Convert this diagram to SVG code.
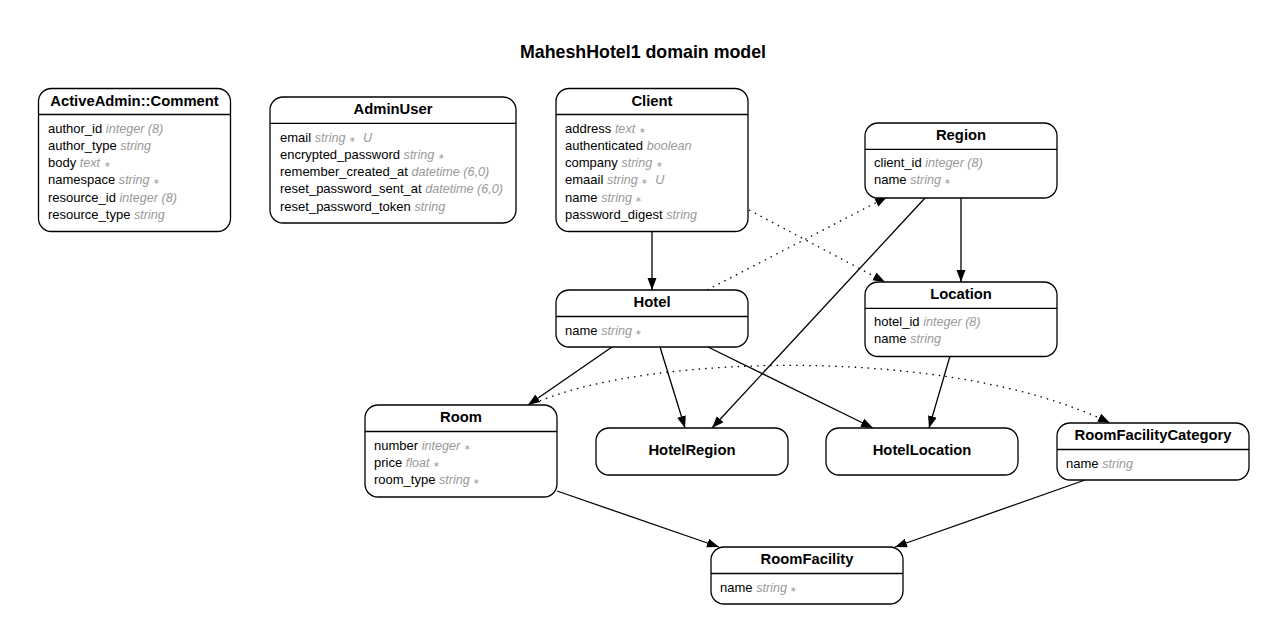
<svg xmlns="http://www.w3.org/2000/svg" width="1287" height="643" viewBox="0 0 1287 643">
<style>
.bg{fill:#fff}
.box{fill:#fff;stroke:#000;stroke-width:1.3}
.div{stroke:#000;stroke-width:1.3}
.ttl{font-family:"Liberation Sans",Arial,sans-serif;font-size:17.8px;font-weight:bold;fill:#000;text-anchor:middle}
.nt{font-family:"Liberation Sans",Arial,sans-serif;font-size:14.8px;font-weight:bold;fill:#000;text-anchor:middle}
.a{font-family:"Liberation Sans",Arial,sans-serif;font-size:13px;fill:#000;white-space:pre}
.t{font-style:italic;font-size:12.6px;fill:#999}
.s{font-style:normal;font-size:8px;fill:#999}
.e{fill:none;stroke:#000;stroke-width:1.3}
.d{fill:none;stroke:#000;stroke-width:1.3;stroke-dasharray:1.5 5}
</style>
<defs>
<marker id="ah" markerUnits="userSpaceOnUse" markerWidth="13" markerHeight="10" refX="12" refY="4.5" orient="auto">
<path d="M0,0 L12,4.5 L0,9 z" fill="#000"/>
</marker>
</defs>
<rect class="bg" width="1287" height="643"/>
<text class="ttl" x="643" y="58">MaheshHotel1 domain model</text>

<g id="connectors">
<path class="e" d="M652,232 L652,290" marker-end="url(#ah)"/>
<path class="d" d="M749,210 L885,282" marker-end="url(#ah)"/>
<path class="d" d="M707,290 L887,197" marker-end="url(#ah)"/>
<path class="e" d="M961,198 L961,282" marker-end="url(#ah)"/>
<path class="e" d="M925,198 L712,428" marker-end="url(#ah)"/>
<path class="e" d="M612,347 L528,405" marker-end="url(#ah)"/>
<path class="e" d="M660,347 L685,428" marker-end="url(#ah)"/>
<path class="e" d="M708,347 L873,428" marker-end="url(#ah)"/>
<path class="e" d="M950,356 L929,428" marker-end="url(#ah)"/>
<path class="d" d="M540,401 C650,355 950,345 1110,423" marker-end="url(#ah)"/>
<path class="e" d="M557,491 L719,547" marker-end="url(#ah)"/>
<path class="e" d="M1085,480 L895,547" marker-end="url(#ah)"/>
</g>

<g id="node-ActiveAdminComment">
<rect class="box" x="38.5" y="88.5" width="192" height="143" rx="13"/>
<line class="div" x1="38.5" y1="114.5" x2="230.5" y2="114.5"/>
<text class="nt" x="134.5" y="105.5">ActiveAdmin::Comment</text>
<text class="a" x="48" y="132.5">author_id <tspan class="t">integer (8)</tspan></text>
<text class="a" x="48" y="149.8">author_type <tspan class="t">string</tspan></text>
<text class="a" x="48" y="167.1">body <tspan class="t">text </tspan><tspan class="s">∗</tspan></text>
<text class="a" x="48" y="184.4">namespace <tspan class="t">string </tspan><tspan class="s">∗</tspan></text>
<text class="a" x="48" y="201.7">resource_id <tspan class="t">integer (8)</tspan></text>
<text class="a" x="48" y="219">resource_type <tspan class="t">string</tspan></text>
</g>

<g id="node-AdminUser">
<rect class="box" x="270" y="97" width="246" height="126" rx="13"/>
<line class="div" x1="270" y1="123.3" x2="516" y2="123.3"/>
<text class="nt" x="393" y="114">AdminUser</text>
<text class="a" x="280" y="141.5">email <tspan class="t">string </tspan><tspan class="s">∗</tspan><tspan class="t">  U</tspan></text>
<text class="a" x="280" y="158.8">encrypted_password <tspan class="t">string </tspan><tspan class="s">∗</tspan></text>
<text class="a" x="280" y="176.1">remember_created_at <tspan class="t">datetime (6,0)</tspan></text>
<text class="a" x="280" y="193.4">reset_password_sent_at <tspan class="t">datetime (6,0)</tspan></text>
<text class="a" x="280" y="210.7">reset_password_token <tspan class="t">string</tspan></text>
</g>

<g id="node-Client">
<rect class="box" x="556" y="88.5" width="192" height="143" rx="13"/>
<line class="div" x1="556" y1="114.5" x2="748" y2="114.5"/>
<text class="nt" x="652" y="105.5">Client</text>
<text class="a" x="565" y="132.5">address <tspan class="t">text </tspan><tspan class="s">∗</tspan></text>
<text class="a" x="565" y="149.8">authenticated <tspan class="t">boolean</tspan></text>
<text class="a" x="565" y="167.1">company <tspan class="t">string </tspan><tspan class="s">∗</tspan></text>
<text class="a" x="565" y="184.4">emaail <tspan class="t">string </tspan><tspan class="s">∗</tspan><tspan class="t">  U</tspan></text>
<text class="a" x="565" y="201.7">name <tspan class="t">string </tspan><tspan class="s">∗</tspan></text>
<text class="a" x="565" y="219">password_digest <tspan class="t">string</tspan></text>
</g>

<g id="node-Region">
<rect class="box" x="865" y="123" width="192" height="75" rx="13"/>
<line class="div" x1="865" y1="149.3" x2="1057" y2="149.3"/>
<text class="nt" x="961" y="140">Region</text>
<text class="a" x="874" y="167">client_id <tspan class="t">integer (8)</tspan></text>
<text class="a" x="874" y="184.3">name <tspan class="t">string </tspan><tspan class="s">∗</tspan></text>
</g>

<g id="node-Hotel">
<rect class="box" x="556" y="290" width="192" height="57" rx="13"/>
<line class="div" x1="556" y1="316.5" x2="748" y2="316.5"/>
<text class="nt" x="652" y="307">Hotel</text>
<text class="a" x="565" y="334.5">name <tspan class="t">string </tspan><tspan class="s">∗</tspan></text>
</g>

<g id="node-Location">
<rect class="box" x="865" y="282" width="192" height="74.5" rx="13"/>
<line class="div" x1="865" y1="308.3" x2="1057" y2="308.3"/>
<text class="nt" x="961" y="299">Location</text>
<text class="a" x="874" y="326">hotel_id <tspan class="t">integer (8)</tspan></text>
<text class="a" x="874" y="343.3">name <tspan class="t">string</tspan></text>
</g>

<g id="node-Room">
<rect class="box" x="365" y="405" width="192" height="92" rx="13"/>
<line class="div" x1="365" y1="431.5" x2="557" y2="431.5"/>
<text class="nt" x="461" y="422">Room</text>
<text class="a" x="374" y="449.5">number <tspan class="t">integer </tspan><tspan class="s">∗</tspan></text>
<text class="a" x="374" y="466.8">price <tspan class="t">float </tspan><tspan class="s">∗</tspan></text>
<text class="a" x="374" y="484.1">room_type <tspan class="t">string </tspan><tspan class="s">∗</tspan></text>
</g>

<g id="node-HotelRegion">
<rect class="box" x="596" y="428" width="192" height="47" rx="13"/>
<text class="nt" x="692" y="455">HotelRegion</text>
</g>

<g id="node-HotelLocation">
<rect class="box" x="826" y="428" width="192" height="47" rx="13"/>
<text class="nt" x="922" y="455">HotelLocation</text>
</g>

<g id="node-RoomFacilityCategory">
<rect class="box" x="1057" y="423" width="192" height="57" rx="13"/>
<line class="div" x1="1057" y1="449.5" x2="1249" y2="449.5"/>
<text class="nt" x="1153" y="440">RoomFacilityCategory</text>
<text class="a" x="1066" y="467.5">name <tspan class="t">string</tspan></text>
</g>

<g id="node-RoomFacility">
<rect class="box" x="711" y="547" width="192" height="57" rx="13"/>
<line class="div" x1="711" y1="573.5" x2="903" y2="573.5"/>
<text class="nt" x="807" y="564">RoomFacility</text>
<text class="a" x="720" y="591.5">name <tspan class="t">string </tspan><tspan class="s">∗</tspan></text>
</g>
</svg>
